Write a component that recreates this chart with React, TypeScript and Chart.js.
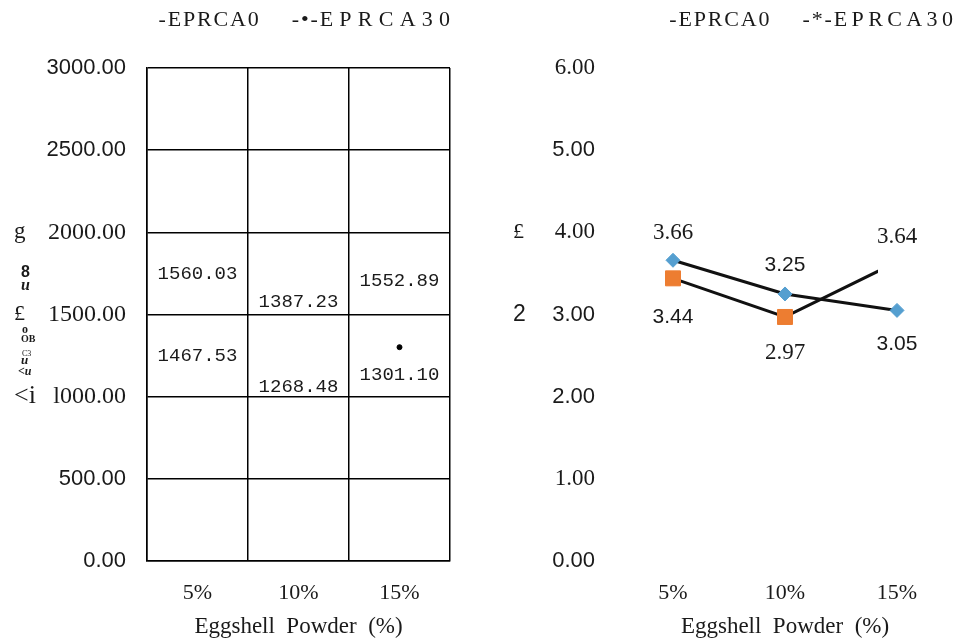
import React, { useEffect, useRef } from 'react';
import { Chart, registerables } from 'chart.js';

Chart.register(...registerables);

// ---------- data ----------
const categories = ['5%', '10%', '15%'];
const seriesNames = ['EPRCA0', 'EPRCA30'];
const strengthEPRCA0 = [1560.03, 1387.23, 1552.89];
const strengthEPRCA30 = [1467.53, 1268.48, 1301.1];
const tensileEPRCA0 = [3.66, 3.25, 3.05];
const tensileEPRCA30 = [3.44, 2.97, 3.64];
const leftTickLabels = ['0.00', '500.00', 'l000.00', '1500.00', '2000.00', '2500.00', '3000.00'];
const rightTickLabels = ['0.00', '1.00', '2.00', '3.00', '4.00', '5.00', '6.00'];
const H = '\u200a';
const T = '\u2009\u200a';
const S = '\u2009';
const leftLegendTexts = [
  `-${H}E${H}P${H}R${H}C${H}A${H}0`,
  `-${H}\u2022${H}-${H}E${T}P${T}R${T}C${T}A${T}3${T}0`,
];
const rightLegendTexts = [
  `-${H}E${H}P${H}R${H}C${H}A${H}0`,
  `-${H}*${H}-${H}E${S}P${S}R${S}C${S}A${S}3${S}0`,
];
const xTitle = 'Eggshell  Powder  (%)';

// ---------- styles ----------
const SERIF = "'Liberation Serif', 'Times New Roman', serif";
const SANS = "'Liberation Sans', Arial, sans-serif";
const MONO = "'Liberation Mono', 'Courier New', monospace";
const INK = '#1a1a1a';

const serifTick = { family: SERIF, size: 24 };
const sansTick = { family: SANS, size: 22 };
const leftTickFonts = [sansTick, sansTick, serifTick, serifTick, serifTick, sansTick, sansTick];
const serifTickR = { family: SERIF, size: 23 };
const sansTickR = { family: SANS, size: 22 };
const rightTickFonts = [sansTickR, serifTickR, sansTickR, sansTickR, serifTickR, sansTickR, serifTickR];

const monoLbl = `19px ${MONO}`;
const serifLbl = `23px ${SERIF}`;
const sansLbl = `21px ${SANS}`;
const leftLabelFonts = [[monoLbl, monoLbl, monoLbl], [monoLbl, monoLbl, monoLbl]];
const leftLabelOffsets = [[-31, -31, -25], [36, 34, 28]];
const rightLabelFonts = [[serifLbl, sansLbl, sansLbl], [sansLbl, serifLbl, serifLbl]];
const rightLabelOffsets = [[-27, -29, 34], [39, 36, -25]];

const leftGlyphs = [
  { t: 'g', at: 2000, x: 14, font: `23px ${SERIF}` },
  { t: '8', at: 1752, x: 21, font: `bold 16px ${SANS}` },
  { t: 'u', at: 1673, x: 21, font: `italic bold 16px ${SERIF}` },
  { t: '\u00a3', at: 1500, x: 14, font: `22px ${SERIF}` },
  { t: 'o', at: 1406, x: 22, font: `bold 12px ${SERIF}` },
  { t: 'OB', at: 1351, x: 21, font: `bold 10px ${SERIF}` },
  { t: 'C3', at: 1262, x: 22, font: `8px ${SERIF}` },
  { t: 'u', at: 1220, x: 21, font: `italic bold 13px ${SERIF}` },
  { t: '<u', at: 1150, x: 18, font: `italic bold 12px ${SERIF}` },
  { t: '<i', at: 1000, x: 14, font: `26px ${SERIF}` },
];
const rightGlyphs = [
  { t: '\u00a3', at: 4, x: 33, font: `22px ${SERIF}` },
  { t: '2', at: 3, x: 33, font: `23px ${SANS}` },
];

function makeLabelPlugin(fonts: string[][], offsets: number[][]) {
  return {
    id: 'pointValueLabels',
    afterDatasetsDraw(chart: any) {
      const ctx = chart.ctx;
      ctx.save();
      ctx.fillStyle = INK;
      ctx.textAlign = 'center';
      ctx.textBaseline = 'middle';
      chart.data.datasets.forEach((ds: any, i: number) => {
        const meta = chart.getDatasetMeta(i);
        meta.data.forEach((el: any, j: number) => {
          const v = ds.data[j] as number;
          ctx.font = fonts[i][j];
          ctx.fillText(v.toFixed(2), el.x, el.y + offsets[i][j]);
        });
      });
      ctx.restore();
    },
  };
}

function makeGlyphPlugin(glyphs: { t: string; at: number; x: number; font: string }[]) {
  return {
    id: 'axisGlyphs',
    afterDraw(chart: any) {
      const ctx = chart.ctx;
      const y = chart.scales.y;
      ctx.save();
      ctx.fillStyle = INK;
      ctx.textAlign = 'left';
      ctx.textBaseline = 'middle';
      glyphs.forEach((g) => {
        ctx.font = g.font;
        ctx.fillText(g.t, g.x, y.getPixelForValue(g.at));
      });
      ctx.restore();
    },
  };
}

function buildOptions(p: {
  padRight: number;
  yWidth: number;
  yMax: number;
  yStep: number;
  tickLabels: string[];
  tickFonts: any[];
  tickPadding: number;
  gridOn: boolean;
  legendTexts: string[];
}) {
  return {
    responsive: true,
    maintainAspectRatio: false,
    animation: false,
    events: [],
    layout: { padding: { top: 9, right: p.padRight, left: 0, bottom: 0 } },
    plugins: {
      tooltip: { enabled: false },
      legend: {
        display: true,
        position: 'top',
        align: 'end',
        onClick: () => {},
        labels: {
          boxWidth: 22,
          boxHeight: 0,
          padding: 0,
          color: INK,
          font: { family: SERIF, size: 22 },
          generateLabels: () =>
            p.legendTexts.map((t, i) => ({
              text: t,
              fillStyle: 'rgba(0,0,0,0)',
              strokeStyle: 'rgba(0,0,0,0)',
              lineWidth: 0,
              hidden: false,
              datasetIndex: i,
              fontColor: INK,
            })),
        },
      },
      subtitle: {
        display: true,
        text: '',
        weight: 500,
        font: { size: 10, lineHeight: 1 },
        padding: { top: 17, bottom: 0 },
      },
    },
    scales: {
      x: {
        type: 'category',
        offset: true,
        grid: { display: p.gridOn, offset: true, color: '#000', lineWidth: 1.5, drawTicks: false },
        border: { display: p.gridOn, color: '#000', width: 1.5 },
        ticks: { font: { family: SERIF, size: 22 }, color: INK, padding: 19, maxRotation: 0 },
        title: {
          display: true,
          text: xTitle,
          color: INK,
          font: { family: SERIF, size: 23 },
          padding: { top: 0, bottom: 0 },
        },
        afterFit: (s: any) => {
          s.height = 80;
        },
      },
      y: {
        min: 0,
        max: p.yMax,
        grid: { display: p.gridOn, color: '#000', lineWidth: 1.5, drawTicks: false },
        border: { display: p.gridOn, color: '#000', width: 1.5 },
        ticks: {
          stepSize: p.yStep,
          padding: p.tickPadding,
          color: INK,
          callback: (v: any) => p.tickLabels[Math.round(Number(v) / p.yStep)],
          font: (c: any) =>
            c && c.tick ? p.tickFonts[Math.round(c.tick.value / p.yStep)] : p.tickFonts[0],
        },
        afterFit: (s: any) => {
          s.width = p.yWidth;
        },
      },
    },
  };
}

export default function App() {
  const leftRef = useRef<HTMLCanvasElement>(null);
  const rightRef = useRef<HTMLCanvasElement>(null);

  useEffect(() => {
    const left = new Chart(leftRef.current as HTMLCanvasElement, {
      type: 'line',
      data: {
        labels: categories,
        datasets: [
          {
            label: seriesNames[0],
            data: strengthEPRCA0,
            showLine: false,
            pointRadius: 0,
            borderColor: 'rgba(0,0,0,0)',
          },
          {
            label: seriesNames[1],
            data: strengthEPRCA30,
            showLine: false,
            pointRadius: [0, 0, 2.5],
            pointBackgroundColor: '#000',
            pointBorderColor: '#000',
            borderColor: 'rgba(0,0,0,0)',
          },
        ],
      },
      options: buildOptions({
        padRight: 30,
        yWidth: 147,
        yMax: 3000,
        yStep: 500,
        tickLabels: leftTickLabels,
        tickFonts: leftTickFonts,
        tickPadding: 21,
        gridOn: true,
        legendTexts: leftLegendTexts,
      }) as any,
      plugins: [makeLabelPlugin(leftLabelFonts, leftLabelOffsets), makeGlyphPlugin(leftGlyphs)],
    });

    const right = new Chart(rightRef.current as HTMLCanvasElement, {
      type: 'line',
      data: {
        labels: categories,
        datasets: [
          {
            label: seriesNames[0],
            data: tensileEPRCA0,
            borderColor: '#111',
            borderWidth: 3,
            tension: 0,
            pointStyle: 'rectRot',
            pointRadius: 7,
            pointBackgroundColor: '#559fd0',
            pointBorderColor: '#559fd0',
            pointBorderWidth: 1,
          },
          {
            label: seriesNames[1],
            data: tensileEPRCA30,
            borderColor: '#111',
            borderWidth: 3,
            tension: 0,
            pointStyle: 'rect',
            pointRadius: 10.6,
            pointBackgroundColor: '#ed7d31',
            pointBorderColor: '#ed7d31',
            pointBorderWidth: 1,
            clip: { left: 20, top: 20, right: -75, bottom: 20 },
          },
        ],
      },
      options: buildOptions({
        padRight: 12,
        yWidth: 137,
        yMax: 6,
        yStep: 1,
        tickLabels: rightTickLabels,
        tickFonts: rightTickFonts,
        tickPadding: 22,
        gridOn: false,
        legendTexts: rightLegendTexts,
      }) as any,
      plugins: [makeLabelPlugin(rightLabelFonts, rightLabelOffsets), makeGlyphPlugin(rightGlyphs)],
    });

    return () => {
      left.destroy();
      right.destroy();
    };
  }, []);

  return (
    <div style={{ position: 'absolute', left: 0, top: 0, width: 965, height: 641, background: '#fff' }}>
      <div style={{ position: 'absolute', left: 0, top: 0, width: 480, height: 641 }}>
        <canvas ref={leftRef} />
      </div>
      <div style={{ position: 'absolute', left: 480, top: 0, width: 485, height: 641 }}>
        <canvas ref={rightRef} />
      </div>
    </div>
  );
}
